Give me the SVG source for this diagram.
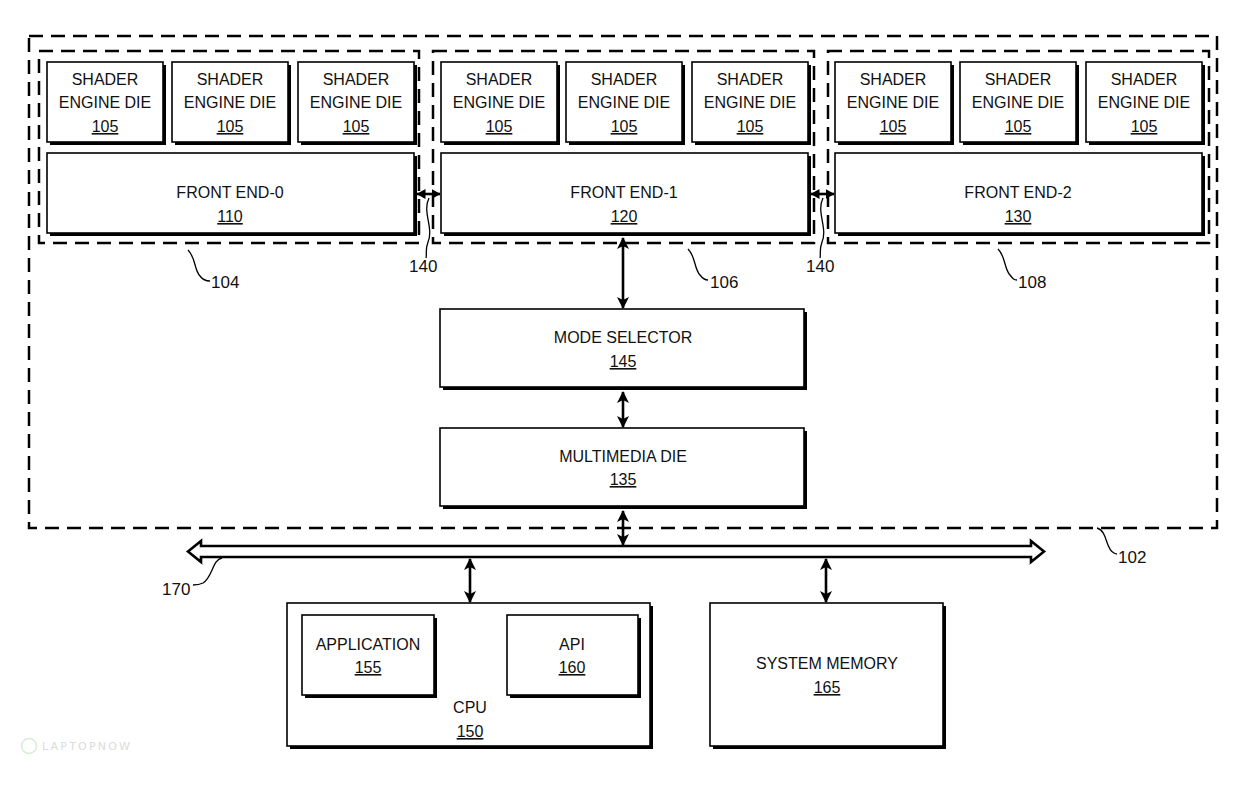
<svg xmlns="http://www.w3.org/2000/svg" width="1258" height="786" viewBox="0 0 1258 786">
<style>
.bg{fill:#fff}
.box{fill:#fff;stroke:#000;stroke-width:1.6}
.sh{fill:#000}
.dash{fill:none;stroke:#000;stroke-width:2.5;stroke-dasharray:14 8}
.t{font-family:"Liberation Sans",Arial,sans-serif;font-size:16px;fill:#111;text-anchor:middle}
.u{text-decoration:underline}
.lbl{font-family:"Liberation Sans",Arial,sans-serif;font-size:17px;fill:#111}
.con{stroke:#000;stroke-width:2.6;fill:none}
.lead{stroke:#000;stroke-width:1.3;fill:none}
</style>
<defs>
<marker id="ah" markerWidth="12" markerHeight="12" refX="11" refY="6" orient="auto-start-reverse" markerUnits="userSpaceOnUse">
<path d="M0,0 L12,6 L0,12 L3,6 z" fill="#000"/>
</marker>
<marker id="ahs" markerWidth="9" markerHeight="10" refX="8.5" refY="5" orient="auto-start-reverse" markerUnits="userSpaceOnUse">
<path d="M0,0 L9,5 L0,10 z" fill="#000"/>
</marker>
</defs>
<rect class="bg" x="0" y="0" width="1258" height="786"/>

<g id="die-102"><rect class="dash" x="29" y="36" width="1188" height="492"/></g>
<g id="group-104"><rect class="dash" x="39" y="51" width="380" height="192"/></g>
<g id="group-106"><rect class="dash" x="433" y="51" width="381" height="192"/></g>
<g id="group-108"><rect class="dash" x="828" y="51" width="381" height="192"/></g>

<g id="se-104-1"><rect class="sh" x="50" y="65" width="116" height="80"/><rect class="box" x="47" y="62" width="116" height="80"/>
<text class="t" x="105" y="85">SHADER</text><text class="t" x="105" y="108">ENGINE DIE</text><text class="t u" x="105" y="132">105</text></g>
<g id="se-104-2"><rect class="sh" x="175" y="65" width="116" height="80"/><rect class="box" x="172" y="62" width="116" height="80"/>
<text class="t" x="230" y="85">SHADER</text><text class="t" x="230" y="108">ENGINE DIE</text><text class="t u" x="230" y="132">105</text></g>
<g id="se-104-3"><rect class="sh" x="301" y="65" width="116" height="80"/><rect class="box" x="298" y="62" width="116" height="80"/>
<text class="t" x="356" y="85">SHADER</text><text class="t" x="356" y="108">ENGINE DIE</text><text class="t u" x="356" y="132">105</text></g>
<g id="fe-110"><rect class="sh" x="50" y="156" width="367" height="80"/><rect class="box" x="47" y="153" width="367" height="80"/>
<text class="t" x="230" y="198">FRONT END-0</text><text class="t u" x="230" y="222">110</text></g>

<g id="se-106-1"><rect class="sh" x="444" y="65" width="116" height="80"/><rect class="box" x="441" y="62" width="116" height="80"/>
<text class="t" x="499" y="85">SHADER</text><text class="t" x="499" y="108">ENGINE DIE</text><text class="t u" x="499" y="132">105</text></g>
<g id="se-106-2"><rect class="sh" x="569" y="65" width="116" height="80"/><rect class="box" x="566" y="62" width="116" height="80"/>
<text class="t" x="624" y="85">SHADER</text><text class="t" x="624" y="108">ENGINE DIE</text><text class="t u" x="624" y="132">105</text></g>
<g id="se-106-3"><rect class="sh" x="695" y="65" width="116" height="80"/><rect class="box" x="692" y="62" width="116" height="80"/>
<text class="t" x="750" y="85">SHADER</text><text class="t" x="750" y="108">ENGINE DIE</text><text class="t u" x="750" y="132">105</text></g>
<g id="fe-120"><rect class="sh" x="444" y="156" width="367" height="80"/><rect class="box" x="441" y="153" width="367" height="80"/>
<text class="t" x="624" y="198">FRONT END-1</text><text class="t u" x="624" y="222">120</text></g>

<g id="se-108-1"><rect class="sh" x="838" y="65" width="116" height="80"/><rect class="box" x="835" y="62" width="116" height="80"/>
<text class="t" x="893" y="85">SHADER</text><text class="t" x="893" y="108">ENGINE DIE</text><text class="t u" x="893" y="132">105</text></g>
<g id="se-108-2"><rect class="sh" x="963" y="65" width="116" height="80"/><rect class="box" x="960" y="62" width="116" height="80"/>
<text class="t" x="1018" y="85">SHADER</text><text class="t" x="1018" y="108">ENGINE DIE</text><text class="t u" x="1018" y="132">105</text></g>
<g id="se-108-3"><rect class="sh" x="1089" y="65" width="116" height="80"/><rect class="box" x="1086" y="62" width="116" height="80"/>
<text class="t" x="1144" y="85">SHADER</text><text class="t" x="1144" y="108">ENGINE DIE</text><text class="t u" x="1144" y="132">105</text></g>
<g id="fe-130"><rect class="sh" x="838" y="156" width="367" height="80"/><rect class="box" x="835" y="153" width="367" height="80"/>
<text class="t" x="1018" y="198">FRONT END-2</text><text class="t u" x="1018" y="222">130</text></g>

<g id="mode-selector-145"><rect class="sh" x="443" y="312" width="364" height="78"/><rect class="box" x="440" y="309" width="364" height="78"/>
<text class="t" x="623" y="343">MODE SELECTOR</text><text class="t u" x="623" y="367">145</text></g>
<g id="multimedia-die-135"><rect class="sh" x="443" y="431" width="364" height="78"/><rect class="box" x="440" y="428" width="364" height="78"/>
<text class="t" x="623" y="462">MULTIMEDIA DIE</text><text class="t u" x="623" y="485">135</text></g>

<g id="cpu-150"><rect class="sh" x="290" y="606" width="363" height="143"/><rect class="box" x="287" y="603" width="363" height="143"/>
<text class="t" x="470" y="713">CPU</text><text class="t u" x="470" y="737">150</text></g>
<g id="application-155"><rect class="sh" x="305" y="618" width="132" height="80"/><rect class="box" x="302" y="615" width="132" height="80"/>
<text class="t" x="368" y="650">APPLICATION</text><text class="t u" x="368" y="673">155</text></g>
<g id="api-160"><rect class="sh" x="510" y="618" width="131" height="80"/><rect class="box" x="507" y="615" width="131" height="80"/>
<text class="t" x="572" y="650">API</text><text class="t u" x="572" y="673">160</text></g>
<g id="system-memory-165"><rect class="sh" x="713" y="606" width="233" height="143"/><rect class="box" x="710" y="603" width="233" height="143"/>
<text class="t" x="827" y="669">SYSTEM MEMORY</text><text class="t u" x="827" y="693">165</text></g>

<g id="bus-170"><path d="M188,551.5 L201,541 L201,546 L1031,546 L1031,541 L1044,551.5 L1031,562 L1031,557 L201,557 L201,562 Z" fill="#fff" stroke="#000" stroke-width="2.6" stroke-linejoin="miter"/></g>

<g id="connectors">
<line class="con" x1="417" y1="194" x2="440" y2="194" marker-start="url(#ahs)" marker-end="url(#ahs)" stroke-width="2"/>
<line class="con" x1="811" y1="194" x2="834" y2="194" marker-start="url(#ahs)" marker-end="url(#ahs)" stroke-width="2"/>
<line class="con" x1="623" y1="238" x2="623" y2="308" marker-start="url(#ah)" marker-end="url(#ah)"/>
<line class="con" x1="623" y1="392" x2="623" y2="427" marker-start="url(#ah)" marker-end="url(#ah)"/>
<line class="con" x1="623" y1="511" x2="623" y2="545" marker-start="url(#ah)" marker-end="url(#ah)"/>
<line class="con" x1="470" y1="559" x2="470" y2="602" marker-start="url(#ah)" marker-end="url(#ah)"/>
<line class="con" x1="826" y1="559" x2="826" y2="602" marker-start="url(#ah)" marker-end="url(#ah)"/>
</g>

<g id="leaders">
<path class="lead" d="M188,250 C196,258 194,270 200,276 C203,280 206,281 210,281"/>
<path class="lead" d="M688,249 C696,257 694,269 700,275 C703,279 705,280 708,280"/>
<path class="lead" d="M998,249 C1006,257 1004,269 1010,275 C1013,279 1014,280 1017,280"/>
<path class="lead" d="M429,198 C422,212 434,228 428,242 C425,250 427,254 426,258"/>
<path class="lead" d="M823,198 C816,212 828,228 822,242 C819,250 821,254 820,258"/>
<path class="lead" d="M1097,528 C1108,531 1105,549 1114,553 C1116,554 1117,554 1117,554"/>
<path class="lead" d="M222,558 C212,560 213,577 203,583 C199,585 196,585 193,585"/>
</g>

<g id="labels">
<text class="lbl" x="211" y="288">104</text>
<text class="lbl" x="710" y="288">106</text>
<text class="lbl" x="1018" y="288">108</text>
<text class="lbl" x="409" y="272">140</text>
<text class="lbl" x="806" y="272">140</text>
<text class="lbl" x="1118" y="563">102</text>
<text class="lbl" x="162" y="595">170</text>
</g>

<g id="watermark" opacity="0.6">
<circle cx="29" cy="746" r="7.5" fill="none" stroke="#bfe0b8" stroke-width="1.5"/>
<text x="42" y="750" font-family="'DejaVu Sans',sans-serif" font-size="11" fill="#c4c4c4" letter-spacing="2.2">LAPTOPNOW</text>
</g>
</svg>
